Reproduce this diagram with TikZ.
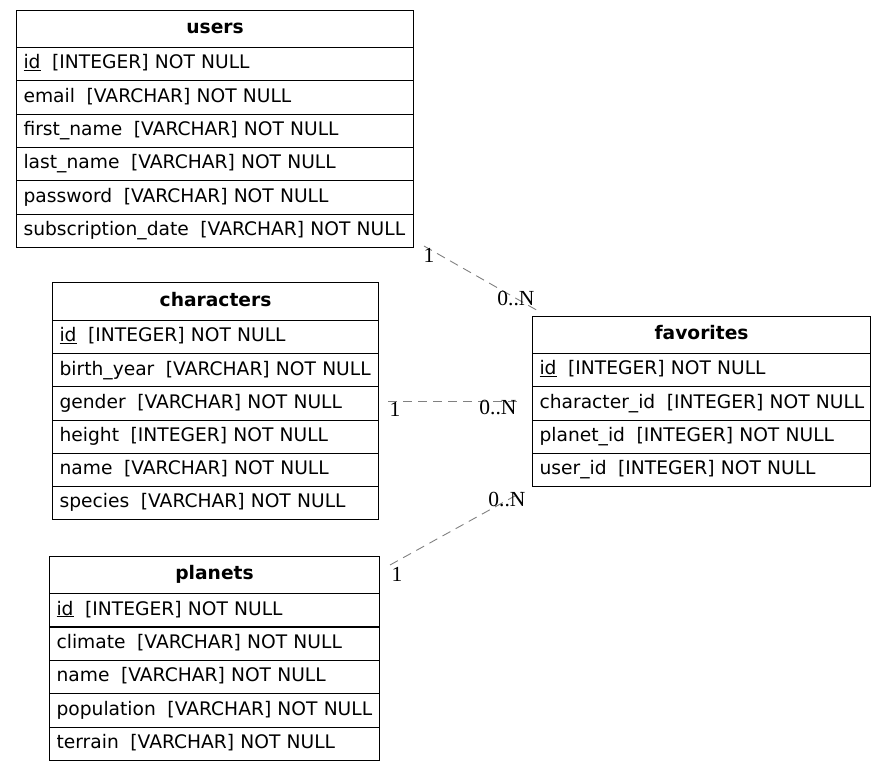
\documentclass[tikz,border=0pt]{standalone}
\usepackage{fontspec}
\setmainfont{DejaVu Sans}
\newfontfamily\cardfont{Liberation Serif}
\newcommand\fsep{\hspace{0.62em}}
\begin{document}
\begin{tikzpicture}[x=1pt,y=-1pt,
  cell/.style={draw=black, line width=1.1pt, anchor=north west, inner xsep=7pt,
    inner ysep=0pt, align=left, text height=13.5pt, text depth=4pt,
    font=\fontsize{18.67}{22}\selectfont},
  hdr/.style={cell, align=center, font=\fontsize{18.67}{22}\selectfont\bfseries},
  rel/.style={draw=gray, dash pattern=on 9pt off 6pt, line width=0.9pt},
  card/.style={font=\cardfont\fontsize{21.5}{24}\selectfont, inner sep=0pt}]
\useasboundingbox (0,0) rectangle (887,770);

% users
\node[hdr, text width=383pt, minimum height=37pt] (users) at (16,10) {users};
\foreach \t [count=\i] in {\underline{id}\fsep[INTEGER] NOT NULL,
    email\fsep[VARCHAR] NOT NULL,
    first\_name\fsep[VARCHAR] NOT NULL,
    last\_name\fsep[VARCHAR] NOT NULL,
    password\fsep[VARCHAR] NOT NULL,
    subscription\_date\fsep[VARCHAR] NOT NULL}
  \node[cell, text width=383pt, minimum height=33.33pt] (users-\i) at (16,{47+(\i-1)*33.33}) {\mbox{\t}};

% characters
\node[hdr, text width=312pt, minimum height=38pt] (characters) at (52,282) {characters};
\foreach \t [count=\i] in {\underline{id}\fsep[INTEGER] NOT NULL,
    birth\_year\fsep[VARCHAR] NOT NULL,
    gender\fsep[VARCHAR] NOT NULL,
    height\fsep[INTEGER] NOT NULL,
    name\fsep[VARCHAR] NOT NULL,
    species\fsep[VARCHAR] NOT NULL}
  \node[cell, text width=312pt, minimum height=33.17pt] (characters-\i) at (52,{320+(\i-1)*33.17}) {\mbox{\t}};

% planets
\node[hdr, text width=316pt, minimum height=37pt] (planets) at (49,556) {planets};
\foreach \t [count=\i] in {\underline{id}\fsep[INTEGER] NOT NULL,
    climate\fsep[VARCHAR] NOT NULL,
    name\fsep[VARCHAR] NOT NULL,
    population\fsep[VARCHAR] NOT NULL,
    terrain\fsep[VARCHAR] NOT NULL}
  \node[cell, text width=316pt, minimum height=33.4pt] (planets-\i) at (49,{593+(\i-1)*33.4}) {\mbox{\t}};

% favorites
\node[hdr, text width=324pt, minimum height=37pt] (favorites) at (532,316) {favorites};
\foreach \t [count=\i] in {\underline{id}\fsep[INTEGER] NOT NULL,
    character\_id\fsep[INTEGER] NOT NULL,
    planet\_id\fsep[INTEGER] NOT NULL,
    user\_id\fsep[INTEGER] NOT NULL}
  \node[cell, text width=324pt, minimum height=33.25pt] (favorites-\i) at (532,{353+(\i-1)*33.25}) {\mbox{\t}};

% relationship ends
\coordinate (uEnd) at (424,246);
\coordinate (fTop) at (540,312);
\coordinate (cEnd) at (388,401);
\coordinate (fLeft) at (522,401);
\coordinate (pEnd) at (390,565);
\coordinate (fBot) at (522,492);

\draw[rel] (uEnd) -- (fTop);
\draw[rel] (cEnd) -- (fLeft);
\draw[rel] (pEnd) -- (fBot);

\node[card] (c1a) at (429,255) {1};
\node[card] (c1b) at (516,299) {0..N};
\node[card] (c2a) at (395,409) {1};
\node[card] (c2b) at (498,408) {0..N};
\node[card] (c3a) at (397,574) {1};
\node[card] (c3b) at (507,500) {0..N};
\end{tikzpicture}
\end{document}
